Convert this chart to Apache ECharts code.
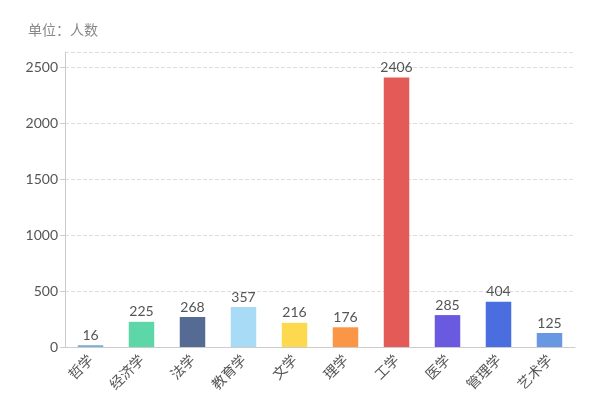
<!DOCTYPE html>
<html><head><meta charset="utf-8">
<script src="https://cdn.jsdelivr.net/npm/echarts@6/dist/echarts.min.js"></script>
<style>html,body{margin:0;padding:0;background:#fff}#c{width:600px;height:396px}</style>
</head><body><div id="c"></div>
<script>
var categories = ['哲学','经济学','法学','教育学','文学','理学','工学','医学','管理学','艺术学'];
var values = [16, 225, 268, 357, 216, 176, 2406, 285, 404, 125];
var colors = ['#7aaed3','#5dd6a8','#566b94','#a8dcf6','#fcd94e','#fb9646','#e45a56','#6a5ae0','#4a6ee0','#6898e2'];
var yTicks = [0, 500, 1000, 1500, 2000, 2500];

var chart = echarts.init(document.getElementById('c'));
chart.setOption({
  animation: false,
  title: { text: '单位：人数', left: 23, top: 18, textStyle: { color: '#888', fontSize: 14, fontWeight: 'normal', fontFamily: 'Noto Sans CJK SC' } },
  grid: { left: 65, right: 25, top: 52, bottom: 49, containLabel: false },
  xAxis: {
    type: 'category', data: categories,
    axisLine: { lineStyle: { color: '#ccc' } },
    axisTick: { alignWithLabel: true, lineStyle: { color: '#ccc' }, length: 5 },
    axisLabel: { rotate: 45, color: '#555', fontSize: 14, margin: 10, interval: 0, fontFamily: 'Noto Sans CJK SC' }
  },
  yAxis: {
    type: 'value', min: 0, max: 2634, interval: 500,
    axisLine: { show: true, lineStyle: { color: '#ccc' } },
    axisTick: { show: true, lineStyle: { color: '#ccc' }, length: 5 },
    splitLine: { lineStyle: { color: '#ddd', type: 'dashed' } },
    axisLabel: { color: '#555', fontSize: 14, margin: 7, fontFamily: 'Lato',
      formatter: function (v) { return yTicks.indexOf(v) >= 0 ? String(v) : ''; }, showMaxLabel: false }
  },
  series: [{
    type: 'bar', barWidth: '50%',
    data: values.map(function (v, i) { return { value: v, itemStyle: { color: colors[i] } }; }),
    label: { show: true, position: 'top', color: '#555', fontSize: 14, distance: 3, fontFamily: 'Lato' }
  }]
});
</script></body></html>
